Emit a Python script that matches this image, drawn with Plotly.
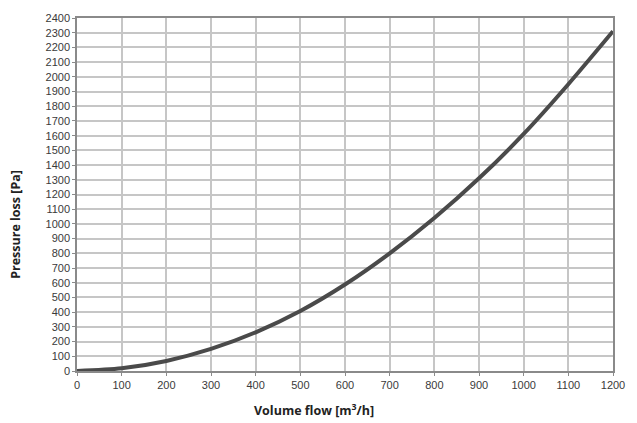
import plotly.graph_objects as go

volume_flow = [0, 100, 200, 300, 400, 500, 600, 700, 800, 900, 1000, 1100, 1200]
pressure_loss = [0, 18, 68, 150, 263, 408, 588, 800, 1040, 1310, 1612, 1950, 2310]

x_ticks = list(range(0, 1201, 100))
y_ticks = list(range(0, 2401, 100))

fig = go.Figure()
fig.add_trace(go.Scatter(
    x=volume_flow, y=pressure_loss, mode="lines",
    line=dict(color="#4a4a4a", width=4, shape="spline", smoothing=0.8),
    showlegend=False,
))

axis_common = dict(
    showgrid=True, gridcolor="#c6c6c6", gridwidth=1.5,
    showline=True, linecolor="#8a8a8a", linewidth=1.5, mirror=True,
    ticks="outside", ticklen=3, tickcolor="#8a8a8a",
    tickfont=dict(family="Liberation Sans", size=11, color="#3a3a3a"),
    zeroline=False,
)

fig.update_xaxes(range=[0, 1200], tickvals=x_ticks, **axis_common)
fig.update_yaxes(range=[0, 2400], tickvals=y_ticks, **axis_common)

fig.add_annotation(
    text="<b>Volume flow [m<sup>3</sup>/h]</b>", xref="paper", yref="paper",
    x=(315 - 77) / 539, y=-40 / 359, xanchor="center", yanchor="middle",
    showarrow=False, font=dict(family="Open Sans", size=12.5, color="#222222"),
)
fig.add_annotation(
    text="<b>Pressure loss [Pa]</b>", xref="paper", yref="paper",
    x=(15 - 77) / 539, y=(371 - 222) / 359, xanchor="center", yanchor="middle",
    textangle=-90, showarrow=False,
    font=dict(family="Open Sans", size=12.5, color="#222222"),
)

fig.update_layout(
    width=637, height=423,
    margin=dict(l=77, r=21, t=12, b=52),
    plot_bgcolor="white", paper_bgcolor="white",
)

fig.write_html("out.html", config={"displayModeBar": False},
               post_script="document.body.style.margin='0';")
